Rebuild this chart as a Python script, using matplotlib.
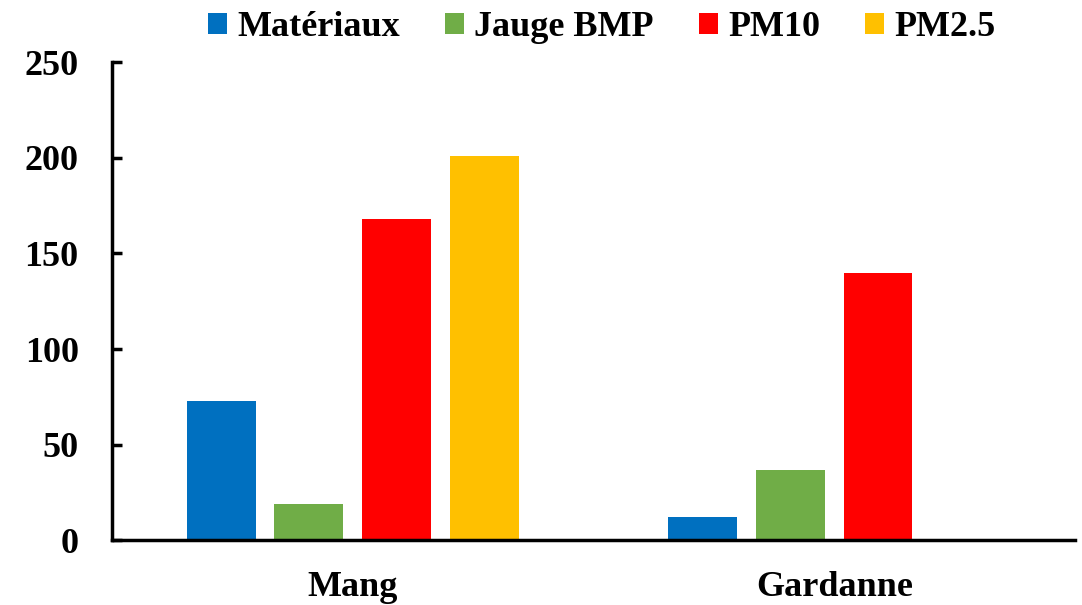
import numpy as np
import matplotlib.pyplot as plt

plt.rcParams['font.family'] = ['Liberation Serif', 'DejaVu Serif']
plt.rcParams['font.weight'] = 'bold'

# sites et séries
sites = ['Mang', 'Gardanne']
series = ['Matériaux', 'Jauge BMP', 'PM10', 'PM2.5']
materiaux = [73, 12]
jauge_bmp = [19, 37]
pm10 = [168, 140]
pm25 = [201, 0]
colors = ['#0070C0', '#70AD47', '#FF0000', '#FFC000']

values = [materiaux, jauge_bmp, pm10, pm25]

fig = plt.figure(figsize=(10.82, 6.05), dpi=100)
ax = fig.add_axes([0.1035, 0.107, 0.89, 0.79])

x = np.arange(len(sites))
width = 0.143
step = 0.182
for i, (name, vals, c) in enumerate(zip(series, values, colors)):
    ax.bar(x + (i - 1.5) * step, vals, width, color=c, label=name)

ax.set_xlim(-0.5, 1.5)
ax.set_ylim(0, 250)
ax.set_yticks(np.arange(0, 251, 50))
ax.set_xticks(x)
ax.set_xticklabels(sites)

for s in ['top', 'right']:
    ax.spines[s].set_visible(False)
for s in ['left', 'bottom']:
    ax.spines[s].set_linewidth(2.5)

ax.tick_params(axis='y', direction='in', length=7, width=2.5, labelsize=26, pad=24)
ax.tick_params(axis='x', length=0, labelsize=26, pad=22)

fig.legend(loc='upper center', bbox_to_anchor=(0.556, 1.035), ncol=4, frameon=False,
           fontsize=26, handlelength=0.53, handleheight=0.53, handletextpad=0.28,
           columnspacing=1.25)

fig.savefig('out.png', dpi=100)
